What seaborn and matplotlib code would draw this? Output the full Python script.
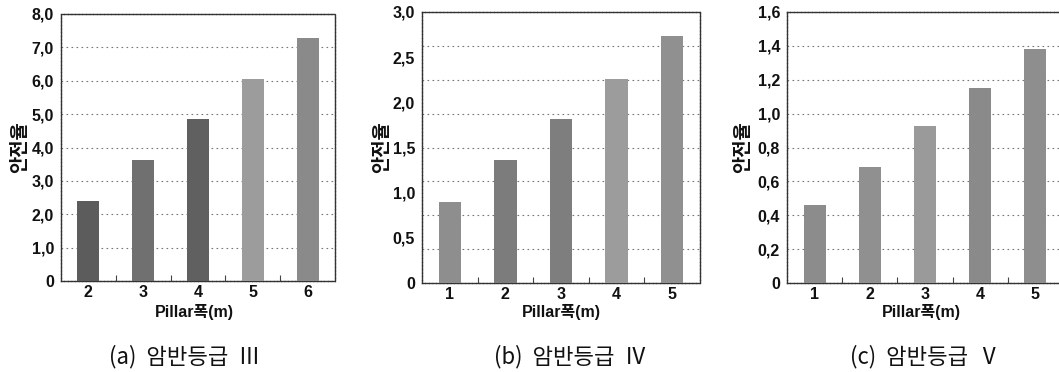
import numpy as np
import pandas as pd
import matplotlib
matplotlib.use("Agg")
import matplotlib.pyplot as plt
import seaborn as sns
from matplotlib.ticker import FixedLocator, FuncFormatter

# ---- data ----
width_a = ["2", "3", "4", "5", "6"]
fs_a = [2.41, 3.64, 4.84, 6.05, 7.27]
width_b = ["1", "2", "3", "4", "5"]
fs_b = [0.90, 1.36, 1.81, 2.26, 2.73]
width_c = ["1", "2", "3", "4", "5"]
fs_c = [0.46, 0.685, 0.925, 1.15, 1.38]
yticks_a = [0, 1, 2, 3, 4, 5, 6, 7, 8]
yticks_b = [0, 0.5, 1.0, 1.5, 2.0, 2.5, 3.0]
yticks_c = [0, 0.2, 0.4, 0.6, 0.8, 1.0, 1.2, 1.4, 1.6]
captions = ["(a)  암반등급  Ⅲ", "(b)  암반등급  Ⅳ", "(c)  암반등급  Ⅴ"]
ylabel = "안전율"
xlabel = "Pillar폭(m)"

# ---- styles ----
pal_a = ["#5c5c5c", "#707070", "#606060", "#9c9c9c", "#8a8a8a"]
pal_b = ["#8e8e8e", "#7c7c7c", "#7e7e7e", "#9c9c9c", "#909090"]
pal_c = ["#8c8c8c", "#909090", "#9a9a9a", "#8a8a8a", "#8e8e8e"]

sns.set_theme(style="white")
plt.rcParams['font.family'] = ['Liberation Sans', 'Noto Sans CJK KR', 'DejaVu Sans']

W, H = 1059, 372
fig = plt.figure(figsize=(W / 100, H / 100), dpi=100)

def px_axes(l, r, t, b):
    return fig.add_axes([l / W, 1 - b / H, (r - l) / W, (b - t) / H])

def fmt(v, pos):
    if abs(v) < 1e-9:
        return "0"
    return f"{v:.1f}".replace(".", ",")

panels = [
    (px_axes(61, 335, 14, 281), width_a, fs_a, yticks_a, pal_a, None, 20),
    (px_axes(422, 700, 12, 283), width_b, fs_b, yticks_b, pal_b,
     [0.375 * k for k in range(1, 8)], 382),
    (px_axes(787, 1063, 12, 283), width_c, fs_c, yticks_c, pal_c, None, 743),
]

for ax, xs, ys, yt, pal, grid_vals, ylab_x in panels:
    df = pd.DataFrame({"x": xs, "y": ys})
    sns.barplot(data=df, x="x", y="y", hue="x", palette=pal, legend=False,
                width=0.4, ax=ax, saturation=1, edgecolor="none", zorder=3)
    ax.set_xlim(-0.5, len(xs) - 0.5)
    ax.set_ylim(yt[0], yt[-1])
    ax.yaxis.set_major_locator(FixedLocator(yt))
    ax.yaxis.set_major_formatter(FuncFormatter(fmt))
    gv = grid_vals if grid_vals is not None else yt[1:-1]
    for g in gv:
        ax.axhline(g, color="#777777", lw=0.8, ls=(0, (1.5, 3)), zorder=1)
    ax.set_xlabel("")
    ax.set_ylabel("")
    for s in ax.spines.values():
        s.set_visible(True)
        s.set_color("#333333")
        s.set_linewidth(1.0)
        s.set_linestyle((0, (2, 0.6)))
    ax.tick_params(axis="both", which="major", length=0, labelsize=11.5,
                   colors="#111111")
    ax.tick_params(axis="x", pad=3)
    ax.tick_params(axis="y", pad=5)
    ax.xaxis.set_minor_locator(FixedLocator([i + 0.5 for i in range(len(xs) - 1)]))
    ax.tick_params(axis="x", which="minor", direction="in", length=4,
                   width=0.8, color="#444444", bottom=True)
    for lab in ax.get_xticklabels() + ax.get_yticklabels():
        lab.set_fontweight("bold")
    fig.text(ylab_x / W, 1 - 147 / H, ylabel, rotation=90, ha="center",
             va="center", fontsize=13.5, fontweight="bold",
             family=['Noto Sans CJK KR', 'DejaVu Sans'], color="#111111")

# x-labels and captions
centers = [194, 561, 921]
cap_centers = [185, 570, 925]
for cx, cc, cap in zip(centers, cap_centers, captions):
    fig.text(cx / W, 1 - 312 / H, xlabel, ha="center", va="center",
             fontsize=11.5, fontweight="bold",
             family=['Liberation Sans Narrow', 'Liberation Sans', 'Noto Sans CJK KR'],
             color="#111111")
    fig.text(cc / W, 1 - 357 / H, cap, ha="center", va="center",
             fontsize=16, fontweight="light",
             family=['Noto Sans CJK KR', 'DejaVu Sans'], color="#111111")

fig.savefig("out.png", dpi=100)
